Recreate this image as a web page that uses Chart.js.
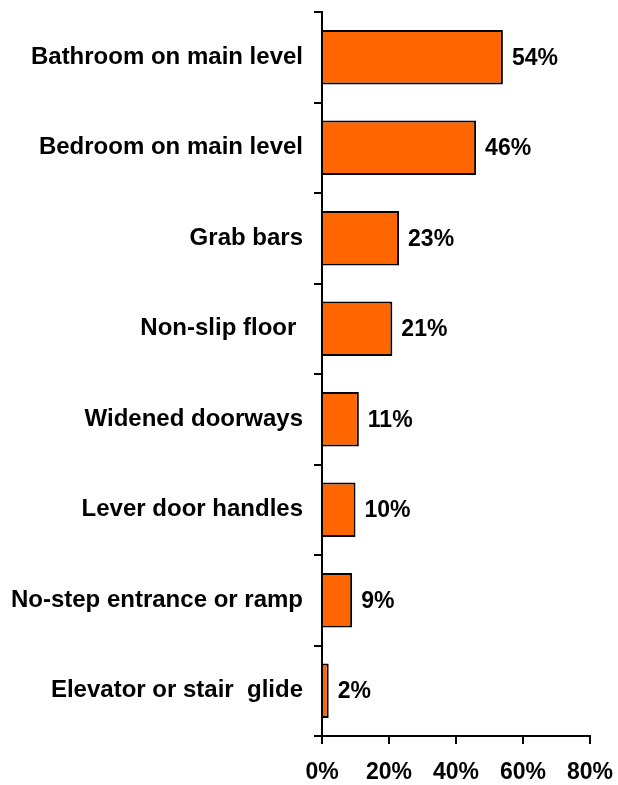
<!DOCTYPE html>
<html>
<head>
<meta charset="utf-8">
<script src="https://cdn.jsdelivr.net/npm/chart.js@4"></script>
<style>
  html, body { margin: 0; padding: 0; background: #fff; }
  #wrap { width: 618px; height: 785px; }
</style>
</head>
<body>
<div id="wrap"><canvas id="chart" width="618" height="785"></canvas></div>
<script>
const categories = [
  "Bathroom on main level",
  "Bedroom on main level",
  "Grab bars",
  "Non-slip floor ",
  "Widened doorways",
  "Lever door handles",
  "No-step entrance or ramp",
  "Elevator or stair  glide"
];
const values = [54, 46, 23, 21, 11, 10, 9, 2];
const xTicks = [0, 20, 40, 60, 80];

const FONT = "Arial, 'Liberation Sans', sans-serif";

// etiquettes de valeur au bout des barres
const valueLabels = {
  id: "valueLabels",
  afterDatasetsDraw(chart) {
    const ctx = chart.ctx;
    const meta = chart.getDatasetMeta(0);
    ctx.save();
    ctx.font = "bold 23px " + FONT;
    ctx.fillStyle = "#000";
    ctx.textBaseline = "middle";
    ctx.textAlign = "left";
    meta.data.forEach((bar, i) => {
      ctx.fillText(values[i] + "%", bar.x + 9, bar.y + 1);
    });
    ctx.restore();
  }
};

new Chart(document.getElementById("chart"), {
  type: "bar",
  data: {
    labels: categories,
    datasets: [{
      data: values,
      backgroundColor: "#FF6600",
      borderColor: "#000",
      borderWidth: 2,
      categoryPercentage: 1,
      barPercentage: 0.6
    }]
  },
  options: {
    indexAxis: "y",
    responsive: false,
    animation: false,
    layout: { padding: { top: 12, right: 28, left: 0, bottom: 0 } },
    plugins: { legend: { display: false }, tooltip: { enabled: false } },
    scales: {
      x: {
        min: 0,
        max: 80,
        afterBuildTicks: (s) => { s.ticks = xTicks.map(v => ({ value: v })); },
        afterFit: (s) => { s.height = 49; s.paddingLeft = 0; s.paddingRight = 0; },
        border: { display: true, color: "#000", width: 2 },
        grid: { drawOnChartArea: false, drawTicks: true, tickLength: 8, color: "#000", lineWidth: 2 },
        ticks: {
          callback: (v) => v + "%",
          color: "#000",
          font: { family: FONT, size: 23, weight: "bold" },
          padding: 15,
          maxRotation: 0
        }
      },
      y: {
        afterFit: (s) => { s.width = 322; s.paddingTop = 0; s.paddingBottom = 0; },
        border: { display: true, color: "#000", width: 2 },
        grid: { offset: true, drawOnChartArea: false, drawTicks: true, tickLength: 8, color: "#000", lineWidth: 2 },
        ticks: {
          color: "#000",
          font: { family: FONT, size: 24, weight: "bold" },
          padding: 11
        }
      }
    }
  },
  plugins: [valueLabels]
});
</script>
</body>
</html>
